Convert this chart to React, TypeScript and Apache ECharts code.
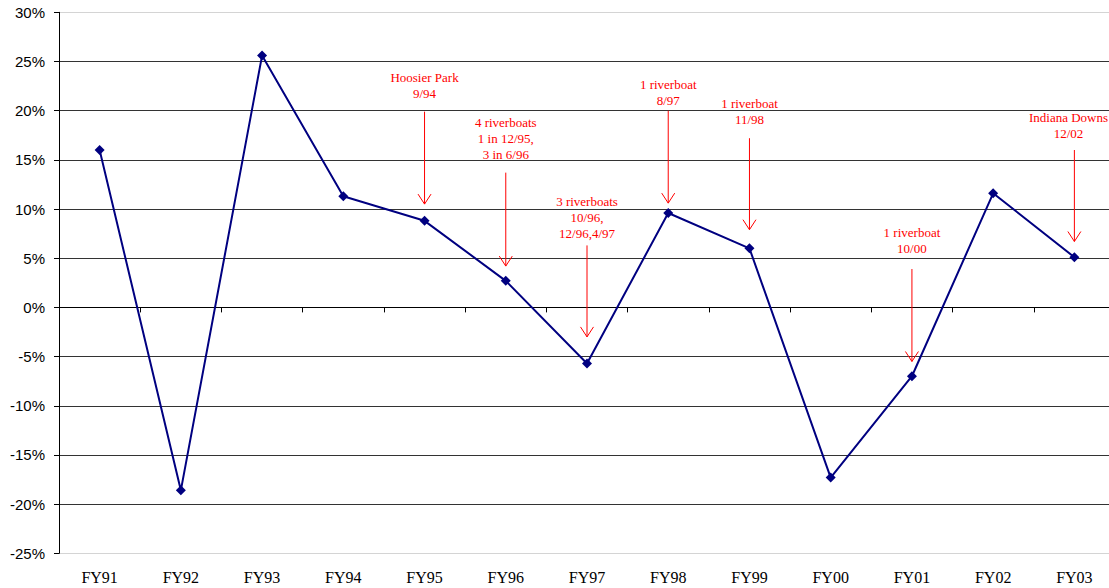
import React, { useEffect, useRef } from "react";
import * as echarts from "echarts";

const categories = ["FY91", "FY92", "FY93", "FY94", "FY95", "FY96", "FY97", "FY98", "FY99", "FY00", "FY01", "FY02", "FY03"];
const growth = [16.0, -18.6, 25.6, 11.3, 8.8, 2.7, -5.7, 9.6, 6.0, -17.3, -7.0, 11.6, 5.1];
const yTicks = { min: -25, max: 30, interval: 5 };

const annotationCategories = ["FY95", "FY96", "FY97", "FY98", "FY99", "FY01", "FY03"];
const annotationTexts = [
  "Hoosier Park\n9/94",
  "4 riverboats\n1 in 12/95,\n3 in 6/96",
  "3 riverboats\n10/96,\n12/96,4/97",
  "1 riverboat\n8/97",
  "1 riverboat\n11/98",
  "1 riverboat\n10/00",
  "Indiana Downs\n12/02",
];
const arrowTops = [19.9, 13.7, 6.3, 20.0, 17.2, 3.9, 16.0];
const arrowTips = [10.5, 4.2, -3.0, 10.6, 7.9, -5.5, 6.7];
const textTops = [23.4, 18.8, 10.8, 22.7, 20.7, 7.6, 19.3];

const gridColors = ["#d4d4d4", "#333", "#333", "#333", "#333", "#333", "#333", "#333", "#333", "#333", "#333", "#d4d4d4"];

const SERIF = '"Liberation Serif", "Times New Roman", serif';

function textBlockWidth(text: string, font: string): number {
  const ctx = document.createElement("canvas").getContext("2d");
  if (!ctx) return 0;
  ctx.font = font;
  return Math.max(...text.split("\n").map((l) => ctx.measureText(l).width));
}

export default function App() {
  const ref = useRef<HTMLDivElement>(null);
  useEffect(() => {
    if (!ref.current) return;
    const chart = echarts.init(ref.current, null, { renderer: "svg" });
    const annData = annotationCategories.map((c, i) => [
      categories.indexOf(c),
      arrowTops[i],
      arrowTips[i],
      textTops[i],
      i,
    ]);
    chart.setOption({
      animation: false,
      backgroundColor: "#fff",
      grid: {
        left: 59,
        width: 1056,
        top: 12.3,
        height: 541,
        containLabel: false,
        outerBoundsMode: "none",
      },
      xAxis: [
        {
          type: "category",
          data: categories,
          position: "bottom",
          axisLine: { onZero: false, show: false },
          axisTick: { show: false },
          axisLabel: {
            color: "#000",
            fontFamily: SERIF,
            fontSize: 16,
            margin: 16,
          },
        },
        {
          type: "category",
          data: categories,
          position: "bottom",
          axisLine: { show: true, onZero: true, lineStyle: { color: "#000", width: 1 } },
          axisTick: { show: true, length: 5, lineStyle: { color: "#000" } },
          axisLabel: { show: false },
          splitLine: { show: false },
        },
      ],
      yAxis: {
        type: "value",
        min: yTicks.min,
        max: yTicks.max,
        interval: yTicks.interval,
        axisLine: { show: true, lineStyle: { color: "#000", width: 1 } },
        axisTick: { show: true, length: 5, lineStyle: { color: "#000" } },
        axisLabel: {
          formatter: "{value}%",
          color: "#000",
          fontFamily: '"Liberation Sans", Arial, sans-serif',
          fontSize: 15,
          margin: 14,
        },
        splitLine: { show: true, lineStyle: { color: gridColors, width: 1 } },
      },
      series: [
        {
          type: "line",
          xAxisIndex: 0,
          data: growth,
          symbol: "diamond",
          symbolSize: 10,
          lineStyle: { color: "#000080", width: 2 },
          itemStyle: { color: "#000080" },
          z: 5,
        },
        {
          type: "custom",
          xAxisIndex: 0,
          clip: false,
          encode: { x: 0, y: [1, 2, 3] },
          data: annData,
          z: 4,
          renderItem: (params: any, api: any) => {
            const idx = api.value(4);
            const top = api.coord([api.value(0), api.value(1)]);
            const tip = api.coord([api.value(0), api.value(2)]);
            const txt = api.coord([api.value(0), api.value(3)]);
            const w = api.getWidth();
            const label = annotationTexts[idx];
            const bw = textBlockWidth(label, "13px " + SERIF);
            const cx = Math.min(txt[0], w - 1 - bw / 2);
            return {
              type: "group",
              children: [
                {
                  type: "line",
                  shape: { x1: top[0], y1: top[1], x2: tip[0], y2: tip[1] },
                  style: { stroke: "#ff0000", lineWidth: 1 },
                },
                {
                  type: "polyline",
                  shape: {
                    points: [
                      [tip[0] - 6.5, tip[1] - 10],
                      [tip[0], tip[1]],
                      [tip[0] + 6.5, tip[1] - 10],
                    ],
                  },
                  style: { stroke: "#ff0000", lineWidth: 1, fill: null },
                },
                {
                  type: "text",
                  x: cx,
                  y: txt[1] - 8,
                  style: {
                    text: label,
                    fill: "#ff0000",
                    fontFamily: SERIF,
                    fontSize: 13,
                    lineHeight: 16,
                    align: "center",
                    verticalAlign: "top",
                  },
                },
              ],
            };
          },
        },
      ],
    });
    return () => chart.dispose();
  }, []);
  return (
    <div
      ref={ref}
      style={{ position: "fixed", left: 0, top: 0, width: 1109, height: 588 }}
    />
  );
}
